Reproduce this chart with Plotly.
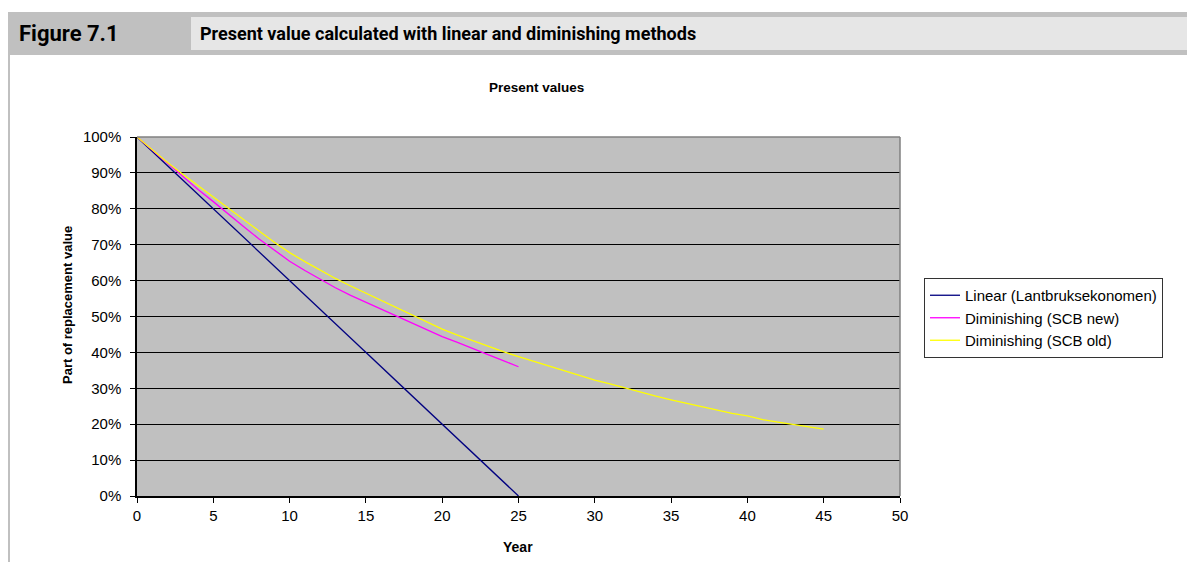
import plotly.graph_objects as go

# ---- data ----
years_linear = list(range(0, 26))
linear_values = [100, 96, 92, 88, 84, 80, 76, 72, 68, 64, 60, 56, 52, 48, 44, 40,
                 36, 32, 28, 24, 20, 16, 12, 8, 4, 0]

years_new = list(range(0, 26))
scb_new_values = [100, 96.3, 92.6, 89.0, 85.4, 82.0, 78.4, 75.0, 71.6, 68.4, 65.4,
                  62.8, 60.4, 58.0, 55.9, 54.0, 52.1, 50.2, 48.3, 46.3, 44.4,
                  42.8, 41.2, 39.4, 37.7, 36.0]

years_old = list(range(0, 46))
scb_old_values = [100, 96.4, 92.9, 89.6, 86.4, 83.2, 80.0, 76.9, 73.8, 70.7, 67.8,
                  65.3, 62.9, 60.6, 58.5, 56.5, 54.5, 52.5, 50.5, 48.4, 46.5,
                  44.8, 43.2, 41.6, 40.2, 38.8, 37.5, 36.2, 34.8, 33.5, 32.3,
                  31.2, 30.0, 29.0, 27.8, 26.8, 25.8, 24.8, 23.8, 23.0, 22.3,
                  21.3, 20.6, 19.9, 19.2, 18.6]

series_names = ["Linear (Lantbruksekonomen)", "Diminishing (SCB new)", "Diminishing (SCB old)"]
series_colors = ["#000080", "#ff00ff", "#ffff00"]

x_ticks = list(range(0, 51, 5))
y_ticks = list(range(0, 101, 10))
y_tick_labels = [f"{v}%" for v in y_ticks]

header_label = "Figure 7.1"
header_title = "Present value calculated with linear and diminishing methods"
chart_title = "Present values"
x_title = "Year"
y_title = "Part of replacement value"

# ---- layout geometry ----
# The page body has an 8px margin, so the figure is 16px smaller than the window
# and figure pixel coordinates are screen coordinates minus 8.
OFF = 8
W, H = 1195 - 2 * OFF, 570 - 2 * OFF
# plot area in screen pixels
SL, SR, ST, SB = 137, 900, 137, 496


def px(x):
    return (x - SL) / (SR - SL)


def py(y):
    return (SB - y) / (SB - ST)


AR = "Liberation Sans, Arial, sans-serif"
HEAD = "Roboto, Liberation Sans, Arial, sans-serif"

fig = go.Figure()
for xs, ys, name, col in [
    (years_linear, linear_values, series_names[0], series_colors[0]),
    (years_new, scb_new_values, series_names[1], series_colors[1]),
    (years_old, scb_old_values, series_names[2], series_colors[2]),
]:
    fig.add_trace(go.Scatter(x=xs, y=ys, mode="lines", name=name,
                             line=dict(color=col, width=1.3)))

shapes = [
    # header band
    dict(type="rect", xref="paper", yref="paper", x0=px(5), x1=px(1200), y0=py(55), y1=py(12),
         fillcolor="#c0c0c0", line=dict(width=0), layer="below"),
    dict(type="rect", xref="paper", yref="paper", x0=px(191), x1=px(1200), y0=py(50), y1=py(17),
         fillcolor="#e6e6e6", line=dict(width=0), layer="below"),
    # left bar
    dict(type="rect", xref="paper", yref="paper", x0=px(5), x1=px(10), y0=py(580), y1=py(55),
         fillcolor="#c0c0c0", line=dict(width=0), layer="below"),
    # plot border (top & right gray)
    dict(type="line", xref="paper", yref="paper", x0=0, x1=1, y0=1, y1=1,
         line=dict(color="#808080", width=1.5), layer="above"),
    dict(type="line", xref="paper", yref="paper", x0=1, x1=1, y0=0, y1=1,
         line=dict(color="#808080", width=1.5), layer="above"),
]

annotations = [
    dict(text="<b>" + header_label + "</b>", xref="paper", yref="paper", x=px(17), y=py(34),
         xanchor="left", yanchor="middle", showarrow=False,
         font=dict(family=HEAD, size=22, color="#000")),
    dict(text="<b>" + header_title + "</b>", xref="paper", yref="paper", x=px(198), y=py(34),
         xanchor="left", yanchor="middle", showarrow=False,
         font=dict(family=HEAD, size=18, color="#000")),
    dict(text="<b>" + chart_title + "</b>", xref="paper", yref="paper", x=px(536), y=py(87),
         xanchor="center", yanchor="middle", showarrow=False,
         font=dict(family=AR, size=13.5, color="#000")),
    dict(text="<b>" + x_title + "</b>", xref="paper", yref="paper", x=px(518), y=py(547),
         xanchor="center", yanchor="middle", showarrow=False,
         font=dict(family=AR, size=14, color="#000")),
    dict(text="<b>" + y_title + "</b>", xref="paper", yref="paper", x=px(67), y=py(305),
         xanchor="center", yanchor="middle", showarrow=False, textangle=-90,
         font=dict(family=AR, size=13, color="#000")),
]

fig.update_layout(
    width=W, height=H,
    margin=dict(l=SL - OFF, r=W - (SR - OFF), t=ST - OFF, b=H - (SB - OFF), pad=0),
    paper_bgcolor="white", plot_bgcolor="#c0c0c0",
    showlegend=True,
    legend=dict(x=px(924), y=py(278), xanchor="left", yanchor="top",
                bgcolor="white", bordercolor="#333333", borderwidth=1,
                font=dict(family=AR, size=15, color="#000"),
                itemwidth=30, tracegroupgap=0),
    shapes=shapes, annotations=annotations,
    font=dict(family=AR, color="#000"),
)
fig.update_xaxes(range=[0, 50], tickvals=x_ticks, showgrid=False, zeroline=False,
                 showline=True, linecolor="#000", linewidth=1.5,
                 ticks="outside", ticklen=5, tickcolor="#000",
                 tickfont=dict(family=AR, size=15, color="#000"), fixedrange=True)
fig.update_yaxes(range=[0, 100], tickvals=y_ticks, ticktext=y_tick_labels, showgrid=True,
                 gridcolor="#000", gridwidth=1, zeroline=False,
                 showline=True, linecolor="#000", linewidth=1.5,
                 ticks="outside", ticklen=5, tickcolor="#000", ticklabelstandoff=6,
                 tickfont=dict(family=AR, size=15, color="#000"), fixedrange=True)

fig.write_html("out.html")
